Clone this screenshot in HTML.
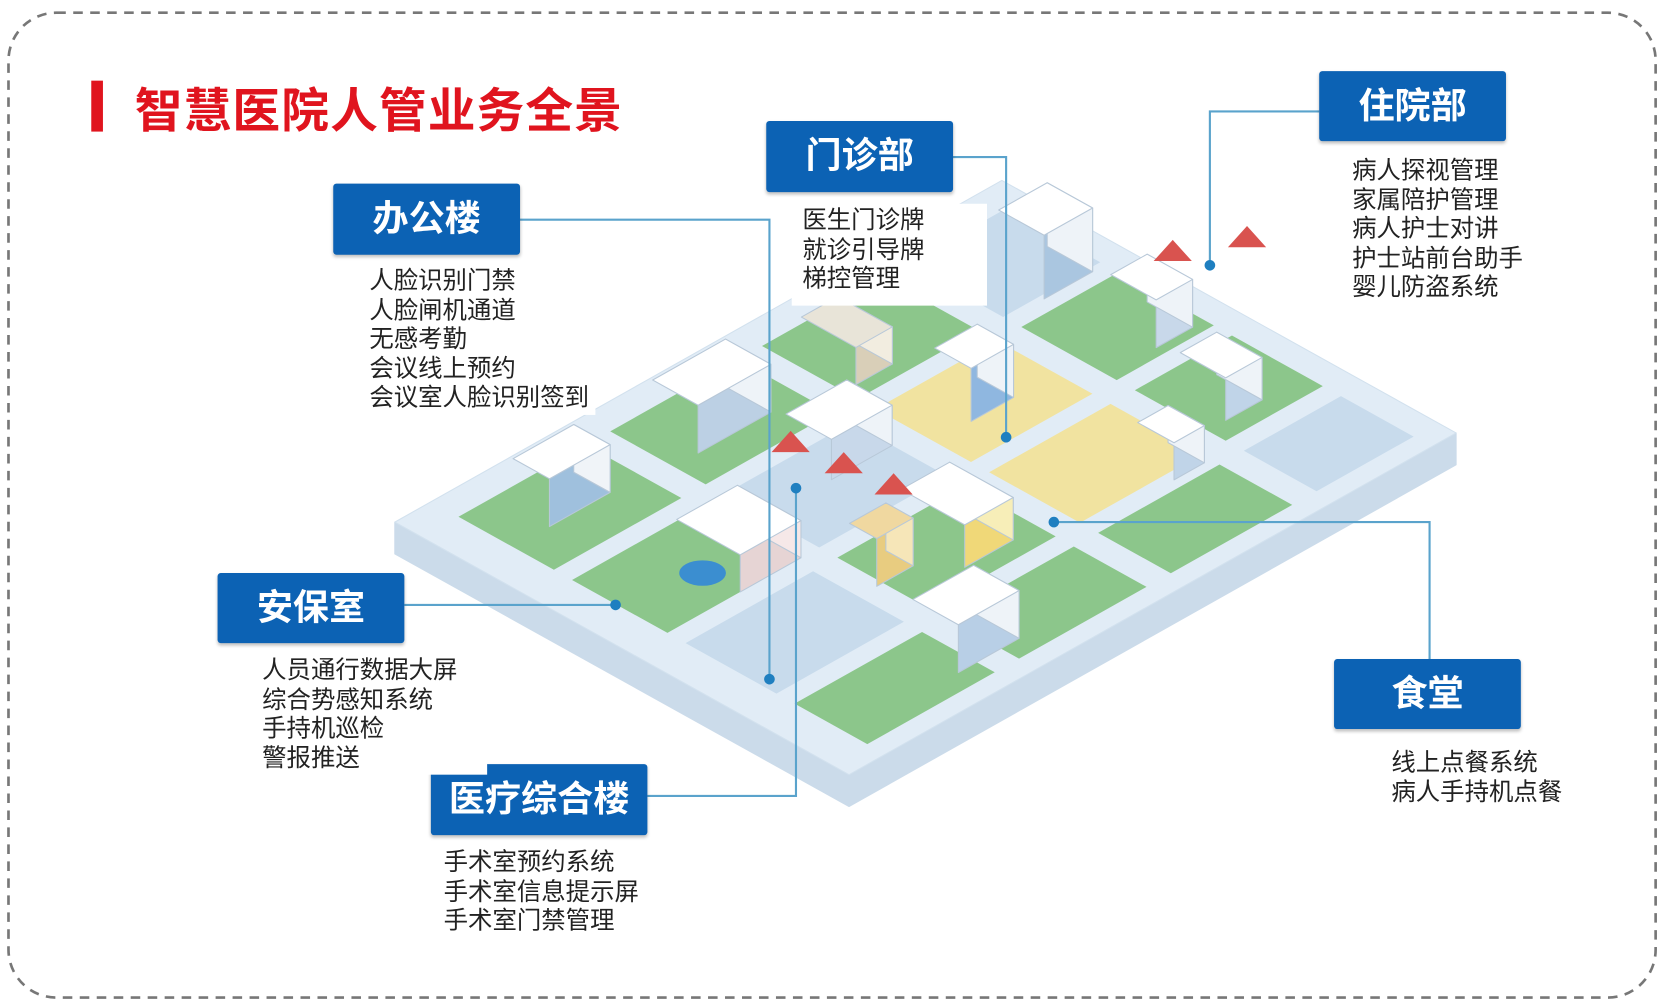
<!DOCTYPE html>
<html><head><meta charset="utf-8">
<style>
html,body{margin:0;padding:0;background:#fff;}
body{width:1662px;height:1006px;overflow:hidden;position:relative;}
#w{position:absolute;left:0;top:0;width:1566px;height:948px;transform:scale(1.0613,1.0612);transform-origin:0 0;font-family:"Liberation Sans","Noto Sans CJK SC",sans-serif;}
.box{position:absolute;background:#0c62b4;color:#fff;font-weight:bold;font-size:34px;text-align:center;border-radius:3px;box-shadow:0 2px 3px rgba(0,0,0,.25);}
.list{position:absolute;font-size:23px;line-height:27.5px;color:#222;background:#fff;padding:2px 6px;white-space:nowrap;}
</style></head><body>
<div id="w">
<svg width="1566" height="948" style="position:absolute;left:0;top:0">
<rect x="8" y="12" width="1552" height="928" rx="45" fill="none" stroke="#777" stroke-width="2.5" stroke-dasharray="9 7"/>
<rect x="86" y="76" width="11" height="48" fill="#e0141e"/>
<g id="city"></g>
<g stroke="#5aa3cc" stroke-width="2" fill="none">
<polyline points="490,207 725,207 725,640"/>
<polyline points="898,148 948,148 948,412"/>
<polyline points="1243,105 1140,105 1140,250"/>
<polyline points="381,570 580,570"/>
<polyline points="610,750 750,750 750,460"/>
<polyline points="1347,621 1347,492 993,492"/>
</g>
<g fill="#1f7fc0">
<circle cx="725" cy="640" r="5"/><circle cx="948" cy="412" r="5"/><circle cx="1140" cy="250" r="5"/>
<circle cx="580" cy="570" r="5"/><circle cx="750" cy="460" r="5"/><circle cx="993" cy="492" r="5"/>
</g>
</svg>
<div style="position:absolute;left:127px;top:68px;font-size:45px;font-weight:bold;color:#e0141e;letter-spacing:1px;">智慧医院人管业务全景</div>

<div class="box" style="left:314px;top:173px;width:176px;height:67px;line-height:67px;">办公楼</div>
<div class="box" style="left:722px;top:114px;width:176px;height:67px;line-height:67px;">门诊部</div>
<div class="box" style="left:1243px;top:67px;width:176px;height:66px;line-height:66px;">住院部</div>
<div class="box" style="left:205px;top:540px;width:176px;height:66px;line-height:66px;">安保室</div>
<div class="box" style="left:406px;top:720px;width:204px;height:67px;line-height:67px;">医疗综合楼</div>
<div class="box" style="left:1257px;top:621px;width:176px;height:66px;line-height:66px;">食堂</div>

<div class="list" style="left:342px;top:249px;">人脸识别门禁<br>人脸闸机通道<br>无感考勤<br>会议线上预约<br>会议室人脸识别签到</div>
<div class="list" style="left:746px;top:192px;width:168px;height:92px;padding-left:10px;">医生门诊牌<br>就诊引导牌<br>梯控管理</div>
<div class="list" style="left:1268px;top:145px;width:174px;height:148px;padding-left:6px;">病人探视管理<br>家属陪护管理<br>病人护士对讲<br>护士站前台助手<br>婴儿防盗系统</div>
<div class="list" style="left:241px;top:616px;width:206px;">人员通行数据大屏<br>综合势感知系统<br>手持机巡检<br>警报推送</div>
<div class="list" style="left:412px;top:797px;">手术室预约系统<br>手术室信息提示屏<br>手术室门禁管理</div>
<div class="list" style="left:1305px;top:703px;">线上点餐系统<br>病人手持机点餐</div>
</div>
<script>
(function(){
var g=document.getElementById('city'),NS='http://www.w3.org/2000/svg';
var O=[372,492],U=[572,-322],V=[428,238];
function P(u,v){return [O[0]+u*U[0]+v*V[0],O[1]+u*U[1]+v*V[1]];}
function poly(pts,fill,stroke){var e=document.createElementNS(NS,'polygon');e.setAttribute('points',pts.map(function(p){return p[0].toFixed(1)+','+p[1].toFixed(1)}).join(' '));e.setAttribute('fill',fill);if(stroke){e.setAttribute('stroke',stroke);e.setAttribute('stroke-width','1');e.setAttribute('stroke-linejoin','round');}g.appendChild(e);}
function quad(u0,v0,u1,v1,f,s){poly([P(u0,v0),P(u1,v0),P(u1,v1),P(u0,v1)],f,s);}
var a=P(0,0),b=P(1,0),c=P(1,1),d=P(0,1);
var e0=document.createElementNS(NS,'polygon');
poly([a,d,c,[c[0],c[1]+30],[d[0],d[1]+30],[a[0],a[1]+30]],'#cbdbea','#cbdbea');
poly([a,b,c,d],'#e1ecf6','#d2e1ee');
var cols=[[0.06,0.27],[0.31,0.52],[0.56,0.76],[0.80,0.96]];
var rows=[[0.06,0.27],[0.31,0.52],[0.56,0.76],[0.80,0.96]];
var colr=[['#8cc68b','#8cc68b','#c8dbec','#8cc68b'],['#8cc68b','#c8dbec','#8cc68b','#8cc68b'],['#8cc68b','#f1e3a0','#f1e3a0','#8cc68b'],['#c8dbec','#8cc68b','#8cc68b','#c8dbec']];
for(var i=0;i<4;i++)for(var j=0;j<4;j++){quad(cols[i][0],rows[j][0],cols[i][1],rows[j][1],colr[i][j]);}
function bld(u,v,w,dd,h,top,side,front){
 var p1=P(u,v),p2=P(u+w,v),p3=P(u+w,v+dd),p4=P(u,v+dd);
 function up(p){return [p[0],p[1]-h];}
 poly([p4,p3,up(p3),up(p4)],front||'#dfe8f2','#b8c8d8');
 poly([p3,p2,up(p2),up(p3)],side||'#f4f7fb','#b8c8d8');
 poly([up(p1),up(p2),up(p3),up(p4)],top||'#ffffff','#b8c8d8');
}
bld(0.12,0.10,0.10,0.08,45,'#fff','#f0f4f8','#9fc0dd');
bld(0.35,0.10,0.12,0.10,45,'#fff','#eef3f8','#bcd0e4');
bld(0.42,0.30,0.10,0.10,38,'#fff','#eef3f8','#c8d8ea');
bld(0.62,0.36,0.07,0.08,50,'#fff','#eef3f8','#8fb7e0');
bld(0.58,0.12,0.06,0.12,35,'#e8e4d8','#f2ede0','#d9cfb8');
bld(0.18,0.38,0.10,0.14,35,'#fff','#f6e8e8','#e6d4d4');
bld(0.30,0.60,0.06,0.06,45,'#f0d8a0','#f6e6b8','#e8cc80');
bld(0.40,0.58,0.08,0.14,40,'#fff','#f7eeb8','#f0d878');
bld(0.24,0.82,0.10,0.10,45,'#fff','#eef3f8','#b8cfe6');
bld(0.86,0.18,0.08,0.10,60,'#fff','#eef3f8','#aac6e0');
bld(0.88,0.40,0.06,0.10,45,'#fff','#eef3f8','#c8d8ea');
bld(0.83,0.62,0.06,0.10,40,'#fff','#eef3f8','#c0d4e8');
bld(0.70,0.70,0.05,0.08,35,'#fff','#eef3f8','#c0d4e8');
[[745,418],[795,438],[842,458],[1105,238],[1175,225]].forEach(function(p){poly([[p[0]-18,p[1]+8],[p[0],p[1]-12],[p[0]+18,p[1]+8]],'#d9534f');});
var e=document.createElementNS(NS,'ellipse');e.setAttribute('cx',662);e.setAttribute('cy',540);e.setAttribute('rx',22);e.setAttribute('ry',12);e.setAttribute('fill','#3b8ed0');g.appendChild(e);
})();
</script>
</body></html>
